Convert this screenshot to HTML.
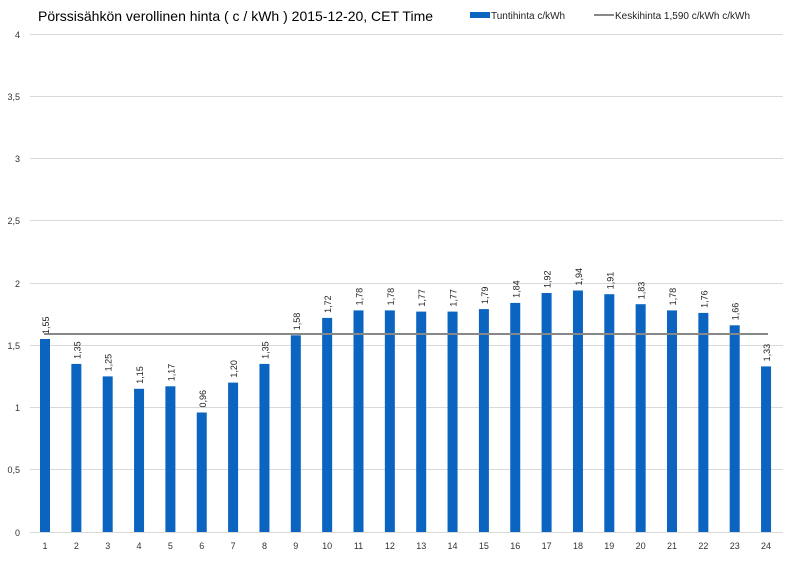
<!DOCTYPE html><html><head><meta charset="utf-8"><style>body{margin:0;background:#fff}svg{display:block;font-family:"Liberation Sans",sans-serif}</style></head><body>
<svg width="800" height="566" viewBox="0 0 800 566">
<rect width="800" height="566" fill="#fff"/>
<text x="38" y="21" font-size="14" fill="#000">Pörssisähkön verollinen hinta ( c / kWh ) 2015-12-20, CET Time</text>
<rect x="470" y="12" width="20" height="6" fill="#0a64c0"/>
<text x="491" y="19" font-size="10" fill="#222">Tuntihinta c/kWh</text>
<line x1="594" y1="15" x2="614" y2="15" stroke="#888" stroke-width="2"/>
<text x="615" y="19" font-size="10" fill="#222">Keskihinta 1,590 c/kWh c/kWh</text>
<g stroke="#d9d9d9" stroke-width="1">
<line x1="30" y1="34.5" x2="783" y2="34.5"/><line x1="30" y1="96.5" x2="783" y2="96.5"/><line x1="30" y1="158.5" x2="783" y2="158.5"/><line x1="30" y1="220.5" x2="783" y2="220.5"/><line x1="30" y1="283.5" x2="783" y2="283.5"/><line x1="30" y1="345.5" x2="783" y2="345.5"/><line x1="30" y1="407.5" x2="783" y2="407.5"/><line x1="30" y1="469.5" x2="783" y2="469.5"/><line x1="30" y1="532.5" x2="783" y2="532.5"/>
</g>
<g font-size="9" fill="#333" text-anchor="end">
<text x="20" y="38">4</text><text x="20" y="100">3,5</text><text x="20" y="162">3</text><text x="20" y="224">2,5</text><text x="20" y="287">2</text><text x="20" y="349">1,5</text><text x="20" y="411">1</text><text x="20" y="473">0,5</text><text x="20" y="536">0</text>
</g>
<g fill="#0a64c0">
<rect x="40" y="339" width="10" height="193"/><rect x="71.35" y="363.9" width="10" height="168.1"/><rect x="102.7" y="376.4" width="10" height="155.6"/><rect x="134.05" y="388.8" width="10" height="143.2"/><rect x="165.4" y="386.3" width="10" height="145.7"/><rect x="196.75" y="412.5" width="10" height="119.5"/><rect x="228.1" y="382.6" width="10" height="149.4"/><rect x="259.45" y="363.9" width="10" height="168.1"/><rect x="290.8" y="335.3" width="10" height="196.7"/><rect x="322.15" y="317.9" width="10" height="214.1"/><rect x="353.5" y="310.4" width="10" height="221.6"/><rect x="384.85" y="310.4" width="10" height="221.6"/><rect x="416.2" y="311.6" width="10" height="220.4"/><rect x="447.55" y="311.6" width="10" height="220.4"/><rect x="478.9" y="309.1" width="10" height="222.9"/><rect x="510.25" y="302.9" width="10" height="229.1"/><rect x="541.6" y="293" width="10" height="239"/><rect x="572.95" y="290.5" width="10" height="241.5"/><rect x="604.3" y="294.2" width="10" height="237.8"/><rect x="635.65" y="304.2" width="10" height="227.8"/><rect x="667" y="310.4" width="10" height="221.6"/><rect x="698.35" y="312.9" width="10" height="219.1"/><rect x="729.7" y="325.3" width="10" height="206.7"/><rect x="761.05" y="366.4" width="10" height="165.6"/>
</g>
<line x1="44" y1="334" x2="768" y2="334" stroke="#888" stroke-width="2"/>
<g font-size="9" fill="#222">
<text transform="translate(49,334) rotate(-90)">1,55</text>
<text transform="translate(80.35,358.9) rotate(-90)">1,35</text>
<text transform="translate(111.7,371.4) rotate(-90)">1,25</text>
<text transform="translate(143.05,383.8) rotate(-90)">1,15</text>
<text transform="translate(174.4,381.3) rotate(-90)">1,17</text>
<text transform="translate(205.75,407.5) rotate(-90)">0,96</text>
<text transform="translate(237.1,377.6) rotate(-90)">1,20</text>
<text transform="translate(268.45,358.9) rotate(-90)">1,35</text>
<text transform="translate(299.8,330.3) rotate(-90)">1,58</text>
<text transform="translate(331.15,312.9) rotate(-90)">1,72</text>
<text transform="translate(362.5,305.4) rotate(-90)">1,78</text>
<text transform="translate(393.85,305.4) rotate(-90)">1,78</text>
<text transform="translate(425.2,306.6) rotate(-90)">1,77</text>
<text transform="translate(456.55,306.6) rotate(-90)">1,77</text>
<text transform="translate(487.9,304.1) rotate(-90)">1,79</text>
<text transform="translate(519.25,297.9) rotate(-90)">1,84</text>
<text transform="translate(550.6,288) rotate(-90)">1,92</text>
<text transform="translate(581.95,285.5) rotate(-90)">1,94</text>
<text transform="translate(613.3,289.2) rotate(-90)">1,91</text>
<text transform="translate(644.65,299.2) rotate(-90)">1,83</text>
<text transform="translate(676,305.4) rotate(-90)">1,78</text>
<text transform="translate(707.35,307.9) rotate(-90)">1,76</text>
<text transform="translate(738.7,320.3) rotate(-90)">1,66</text>
<text transform="translate(770.05,361.4) rotate(-90)">1,33</text>
</g>
<g font-size="9" fill="#333" text-anchor="middle">
<text x="45" y="549">1</text><text x="76.35" y="549">2</text><text x="107.7" y="549">3</text><text x="139.05" y="549">4</text><text x="170.4" y="549">5</text><text x="201.75" y="549">6</text><text x="233.1" y="549">7</text><text x="264.45" y="549">8</text><text x="295.8" y="549">9</text><text x="327.15" y="549">10</text><text x="358.5" y="549">11</text><text x="389.85" y="549">12</text><text x="421.2" y="549">13</text><text x="452.55" y="549">14</text><text x="483.9" y="549">15</text><text x="515.25" y="549">16</text><text x="546.6" y="549">17</text><text x="577.95" y="549">18</text><text x="609.3" y="549">19</text><text x="640.65" y="549">20</text><text x="672" y="549">21</text><text x="703.35" y="549">22</text><text x="734.7" y="549">23</text><text x="766.05" y="549">24</text>
</g>
</svg></body></html>
